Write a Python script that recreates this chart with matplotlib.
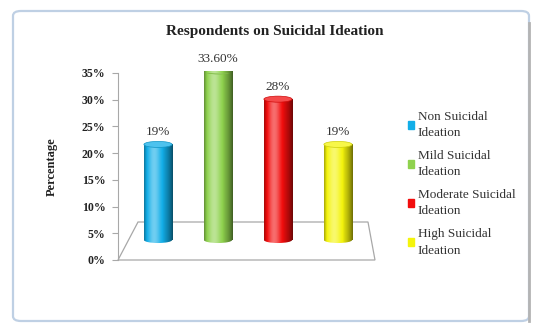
import numpy as np
import matplotlib.pyplot as plt
from matplotlib.patches import Ellipse, Rectangle, Polygon, FancyBboxPatch
from matplotlib.colors import to_rgb

plt.rcParams['font.family'] = ['Liberation Serif', 'DejaVu Serif']

categories = ['Non Suicidal\nIdeation', 'Mild Suicidal\nIdeation',
              'Moderate Suicidal\nIdeation', 'High Suicidal\nIdeation']
values = [19, 33.6, 28, 19]
value_labels = ['19%', '33.60%', '28%', '19%']
colors = ['#12aee8', '#8fd24e', '#f20d0d', '#f4f40c']
yticks = [0, 5, 10, 15, 20, 25, 30, 35]
ytick_labels = ['0%', '5%', '10%', '15%', '20%', '25%', '30%', '35%']

W, H = 534, 323
fig = plt.figure(figsize=(W / 100, H / 100), dpi=100)

# outer frame
frame = FancyBboxPatch((13 / W, 2 / H), 516 / W, 310 / H,
                       boxstyle='round,pad=0,rounding_size=0.015',
                       transform=fig.transFigure, facecolor='white',
                       edgecolor='#bfd0e4', linewidth=1.6, zorder=-10)
fig.patches.append(frame)
fig.add_artist(plt.Line2D([529 / W, 529 / W], [2 / H, 300 / H],
                          transform=fig.transFigure, color='#b4b4b4', lw=2, zorder=-9))

rect = [118 / W, 63 / H, 257 / W, 187 / H]
ax = fig.add_axes(rect)
ax.set_xlim(-0.667, 3.617)
ax.set_ylim(0, 35)
ax.patch.set_alpha(0)
for s in ['top', 'right', 'bottom']:
    ax.spines[s].set_visible(False)
ax.spines['left'].set_color('#a8a8a8')
ax.set_yticks(yticks)
ax.set_yticklabels(ytick_labels, fontsize=8.5, fontweight='bold', color='#222222')
ax.tick_params(axis='y', length=4, color='#a8a8a8', pad=5)
ax.set_xticks([])
ax.set_ylabel('Percentage', fontsize=9, fontweight='bold', labelpad=17, color='#222222')

# floor of the 3d plot
floor = Polygon([(0, 0), (20 / 257, 38 / 187), (250 / 257, 38 / 187), (1, 0)],
                closed=True, transform=ax.transAxes, facecolor='none',
                edgecolor='#a8a8a8', lw=0.9, clip_on=False)
ax.add_patch(floor)

# bars sit in depth, so their own scale is a bit smaller
bx = fig.add_axes(rect, sharex=ax)
bx.axis('off')
ylo, yhi = -20 / 5.03, 167 / 5.03

w = 0.47
eh = 1.2
t = np.linspace(0, 1, 60)
shade = 0.55 * np.exp(-((t - 0.35) / 0.22) ** 2) - 0.55 * t ** 4 - 0.35 * (1 - t) ** 8


def shaded(c):
    c = np.array(to_rgb(c))
    img = np.zeros((1, len(t), 3))
    for i, s in enumerate(shade):
        if s > 0:
            img[0, i] = c + (1 - c) * s * 0.75
        else:
            img[0, i] = c * (1 + s)
    return np.clip(img, 0, 1)


x = np.arange(len(values))
for xi, v, c, lab in zip(x, values, colors, value_labels):
    img = shaded(c)
    body = Rectangle((xi - w / 2, 0), w, v, transform=bx.transData)
    im = bx.imshow(img, extent=(xi - w / 2, xi + w / 2, 0, v), aspect='auto', zorder=2)
    im.set_clip_path(body)
    bot = Ellipse((xi, 0), w, eh, transform=bx.transData)
    im2 = bx.imshow(img, extent=(xi - w / 2, xi + w / 2, -eh, eh), aspect='auto', zorder=1)
    im2.set_clip_path(bot)
    cc = np.array(to_rgb(c))
    top = Ellipse((xi, v), w, eh, facecolor=cc + (1 - cc) * 0.25,
                  edgecolor=cc * 0.85, lw=0.5, zorder=3)
    bx.add_patch(top)
    bx.text(xi, v + 2.4, lab, ha='center', va='center', fontsize=9.5,
            color='#333333', clip_on=False)

bx.set_xlim(-0.667, 3.617)
bx.set_ylim(ylo, yhi)

fig.text(275 / W, 1 - 31 / H, 'Respondents on Suicidal Ideation', ha='center',
         va='center', fontsize=11, fontweight='bold', color='#222222')

handles = [Rectangle((0, 0), 1, 1, color=c) for c in colors]
leg = fig.legend(handles, categories, loc='upper left', bbox_to_anchor=(396 / W, 1 - 99 / H),
                 frameon=False, fontsize=9.5, labelspacing=0.8, handlelength=0.5,
                 handleheight=0.5, handletextpad=0.25, labelcolor='#333333')
for txt in leg.get_texts():
    txt.set_linespacing(1.5)

fig.savefig('out.png', dpi=100)
